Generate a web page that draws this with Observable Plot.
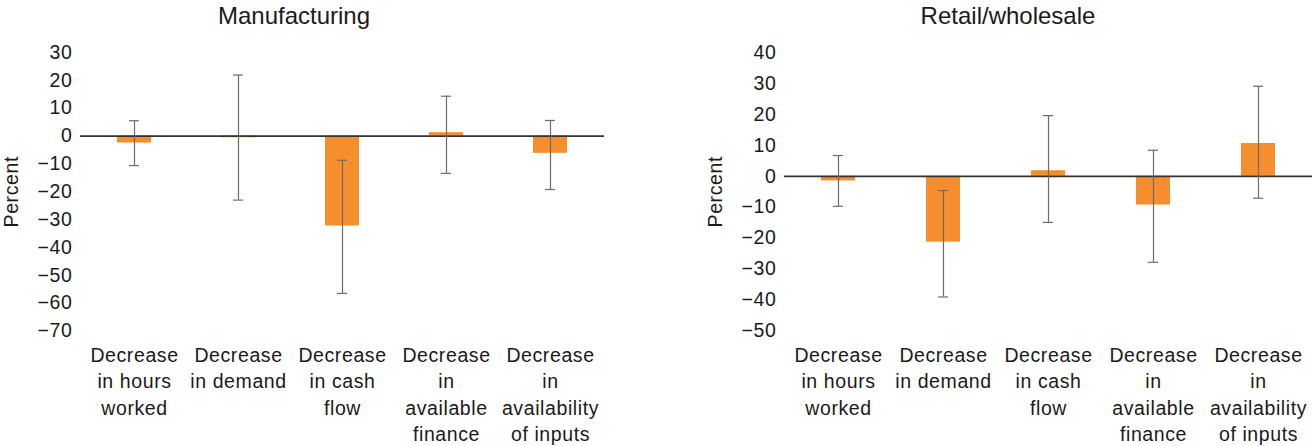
<!DOCTYPE html>
<html><head><meta charset="utf-8">
<script src="https://cdn.jsdelivr.net/npm/d3@7"></script>
<script src="https://cdn.jsdelivr.net/npm/@observablehq/plot@0.6"></script>
<style>
body{margin:0;background:#fff;}
#wrap{position:relative;width:1312px;height:446px;overflow:hidden;font-family:"Liberation Sans",Arial,sans-serif;}
.panel{position:absolute;top:0;width:656px;height:446px;}
.title{position:absolute;top:2px;font-size:24px;color:#1a1a1a;white-space:nowrap;transform:translateX(-50%);font-family:"Liberation Sans",Arial,sans-serif;}
svg text{letter-spacing:0.6px;}
</style></head><body>
<div id="wrap"></div>
<script>
// ---- data ----
const categories = ["hours", "demand", "cash", "finance", "inputs"];
const categoryLabels = [
  "Decrease\nin hours\nworked",
  "Decrease\nin demand",
  "Decrease\nin cash\nflow",
  "Decrease\nin\navailable\nfinance",
  "Decrease\nin\navailability\nof inputs"
];
const panelTitles = ["Manufacturing", "Retail/wholesale"];

const manufacturingValues = [-2.5, -0.6, -32.3, 1.2, -6.2];
const manufacturingLow = [-10.6, -23.0, -56.5, -13.4, -19.2];
const manufacturingHigh = [5.5, 21.9, -8.7, 14.3, 5.6];
const manufacturingTicks = [30, 20, 10, 0, -10, -20, -30, -40, -50, -60, -70];

const retailValues = [-1.5, -21.3, 1.8, -9.3, 10.6];
const retailLow = [-9.7, -39.0, -14.9, -27.8, -7.1];
const retailHigh = [6.7, -4.6, 19.6, 8.4, 29.1];
const retailTicks = [40, 30, 20, 10, 0, -10, -20, -30, -40, -50];

// ---- build ----
const labelMap = new Map(categories.map((c, i) => [c, categoryLabels[i]]));
function rows(vals, lo, hi) {
  return categories.map((c, i) => ({cat: c, value: vals[i], low: lo[i], high: hi[i]}));
}
const ORANGE = "#f68e2e";
const ERR = "#6b6b6b";

function panel({data, ticks, marginLeft, marginRight}) {
  const domain = [d3.min(ticks), d3.max(ticks)];
  return Plot.plot({
    width: 656,
    height: 446,
    marginTop: 52,
    marginBottom: 115.5,
    marginLeft,
    marginRight,
    style: {fontSize: "19.5px", fontFamily: "'Liberation Sans', Arial, sans-serif", color: "#1a1a1a", background: "transparent"},
    x: {domain: categories, paddingInner: 0.675, paddingOuter: 0.3375, axis: null},
    y: {domain, axis: null},
    marks: [
      Plot.axisY({ticks, tickSize: 0, tickPadding: 8, label: "Percent", labelAnchor: "center", labelOffset: 76, labelArrow: "none"}),
      Plot.axisX({tickSize: 0, tickPadding: 12, tickFormat: d => labelMap.get(d), lineHeight: 1.36, label: null}),
      Plot.barY(data, {x: "cat", y: "value", fill: ORANGE}),
      Plot.ruleY([0], {stroke: "#333", strokeWidth: 1.7}),
      Plot.ruleX(data, {x: "cat", y1: "low", y2: "high", stroke: ERR, strokeWidth: 1.2}),
      Plot.tickY(data, {x: "cat", y: "low", stroke: ERR, strokeWidth: 1.2, insetLeft: 12, insetRight: 12}),
      Plot.tickY(data, {x: "cat", y: "high", stroke: ERR, strokeWidth: 1.2, insetLeft: 12, insetRight: 12})
    ]
  });
}

const wrap = document.getElementById("wrap");
const specs = [
  {data: rows(manufacturingValues, manufacturingLow, manufacturingHigh), ticks: manufacturingTicks, marginLeft: 80, marginRight: 52, left: 0, titleX: 294},
  {data: rows(retailValues, retailLow, retailHigh), ticks: retailTicks, marginLeft: 128, marginRight: 0, left: 656, titleX: 352}
];
specs.forEach((s, i) => {
  const div = document.createElement("div");
  div.className = "panel";
  div.style.left = s.left + "px";
  div.appendChild(panel(s));
  const t = document.createElement("div");
  t.className = "title";
  t.style.left = s.titleX + "px";
  t.textContent = panelTitles[i];
  div.appendChild(t);
  wrap.appendChild(div);
});
</script>
</body></html>
